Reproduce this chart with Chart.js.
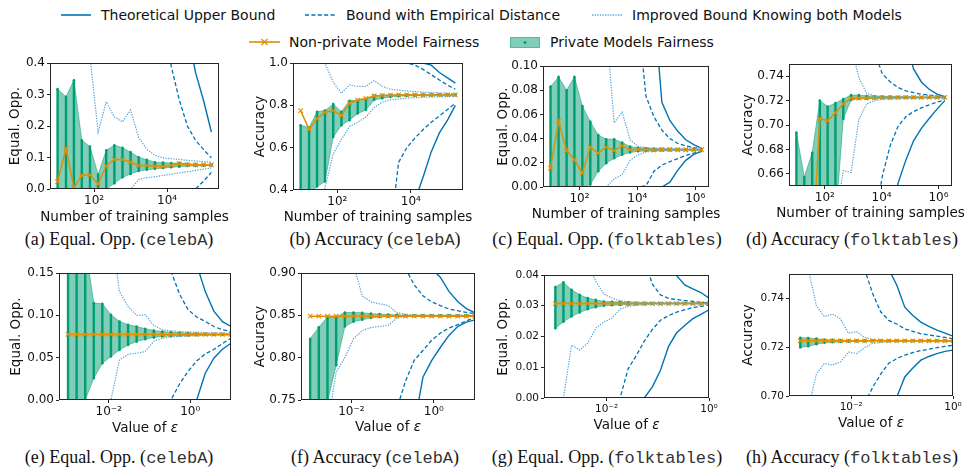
<!DOCTYPE html>
<html><head><meta charset="utf-8">
<script src="https://cdn.jsdelivr.net/npm/chart.js@4.4.1/dist/chart.umd.min.js"></script>
<style>
html,body{margin:0;padding:0;background:#fff;}
#wrap{position:relative;width:964px;height:469px;overflow:hidden;background:#fff;font-family:"DejaVu Sans",sans-serif;color:#111;}
canvas{position:absolute;}
.leg{position:absolute;font-size:14px;line-height:16px;white-space:nowrap;color:#111;}
.xt{position:absolute;font-size:13.5px;line-height:16px;white-space:nowrap;transform:translate(-50%,-50%);color:#111;}
.cap{position:absolute;font-family:"Liberation Serif","Times New Roman",serif;font-size:18px;line-height:20px;white-space:nowrap;transform:translateX(-50%);color:#111;}
.cap .tt{font-family:"Liberation Mono","Courier New",monospace;font-size:17px;color:#333;}
svg{position:absolute;overflow:visible;}
</style></head>
<body><div id="wrap">
<svg style="left:61px;top:9px" width="31" height="12"><line x1="0" y1="6" x2="30" y2="6" stroke="#0173B2" stroke-width="1.6"/></svg>
<div class="leg" style="left:101px;top:7px">Theoretical Upper Bound</div>
<svg style="left:305px;top:9px" width="31" height="12"><line x1="0" y1="6" x2="30" y2="6" stroke="#0173B2" stroke-width="1.6" stroke-dasharray="4,2.4"/></svg>
<div class="leg" style="left:346px;top:7px">Bound with Empirical Distance</div>
<svg style="left:592px;top:9px" width="31" height="12"><line x1="0" y1="6" x2="30" y2="6" stroke="#4FA3DA" stroke-width="1.4" stroke-dasharray="1.3,1.3"/></svg>
<div class="leg" style="left:632px;top:7px">Improved Bound Knowing both Models</div>
<svg style="left:249px;top:36px" width="32" height="12"><line x1="0" y1="6" x2="31" y2="6" stroke="#DE8F05" stroke-width="1.6"/><line x1="12.5" y1="3" x2="18.5" y2="9" stroke="#DE8F05" stroke-width="1.2"/><line x1="12.5" y1="9" x2="18.5" y2="3" stroke="#DE8F05" stroke-width="1.2"/></svg>
<div class="leg" style="left:289px;top:34px">Non-private Model Fairness</div>
<svg style="left:510px;top:37px" width="31" height="11"><rect x="0.5" y="0.5" width="29" height="10" fill="rgba(2,158,115,0.5)" stroke="rgba(2,158,115,0.6)"/><circle cx="15" cy="5.5" r="1.5" fill="#029E73"/></svg>
<div class="leg" style="left:550px;top:34px">Private Models Fairness</div>

<div class="cap" style="left:119px;top:229px">(a) Equal. Opp. (<span class="tt">celebA</span>)</div>
<div class="cap" style="left:375px;top:229px">(b) Accuracy (<span class="tt">celebA</span>)</div>
<div class="cap" style="left:607px;top:229px">(c) Equal. Opp. (<span class="tt">folktables</span>)</div>
<div class="cap" style="left:852px;top:229px">(d) Accuracy (<span class="tt">folktables</span>)</div>
<div class="cap" style="left:119px;top:447px">(e) Equal. Opp. (<span class="tt">celebA</span>)</div>
<div class="cap" style="left:375px;top:447px">(f) Accuracy (<span class="tt">celebA</span>)</div>
<div class="cap" style="left:607px;top:447px">(g) Equal. Opp. (<span class="tt">folktables</span>)</div>
<div class="cap" style="left:852px;top:447px">(h) Accuracy (<span class="tt">folktables</span>)</div>
</div>
<script>
const n = null;
// ---- x values ----
const celebN = [10, 17, 28, 46, 77, 129, 215, 359, 599, 999, 1666, 2779, 4635, 7731, 12894, 21506, 35869, 59826, 99783, 162770];
const folkN = [10, 19, 36, 67, 126, 237, 446, 840, 1582, 2980, 5612, 10570, 19906, 37490, 70610, 132990, 250470, 471730, 888450, 1673300];
const celebEps = [0.001, 0.001624, 0.002637, 0.004281, 0.006952, 0.01129, 0.01833, 0.02976, 0.04833, 0.07848, 0.1274, 0.2069, 0.336, 0.5456, 0.8859, 1.438, 2.336, 3.793, 6.158, 10];
const folkEps = [0.001, 0.001438, 0.002069, 0.002976, 0.004281, 0.006158, 0.008859, 0.01274, 0.01833, 0.02637, 0.03793, 0.05456, 0.07848, 0.1129, 0.1624, 0.2336, 0.336, 0.4833, 0.6952, 1.0];
// ---- tick labels ----
const celebNTicks = [100, 10000];            const celebNTickLabels = ['10²', '10⁴'];
const folkNTicks = [100, 10000, 1000000];    const folkNTickLabels = ['10²', '10⁴', '10⁶'];
const epsTicks = [0.01, 1];                  const epsTickLabels = ['10⁻²', '10⁰'];
const aYTicks = [0, 0.1, 0.2, 0.3, 0.4];     const aYLabels = ['0.0', '0.1', '0.2', '0.3', '0.4'];
const bYTicks = [0.4, 0.6, 0.8, 1.0];        const bYLabels = ['0.4', '0.6', '0.8', '1.0'];
const cYTicks = [0, 0.02, 0.04, 0.06, 0.08, 0.10]; const cYLabels = ['0.00', '0.02', '0.04', '0.06', '0.08', '0.10'];
const dYTicks = [0.66, 0.68, 0.70, 0.72, 0.74];    const dYLabels = ['0.66', '0.68', '0.70', '0.72', '0.74'];
const eYTicks = [0, 0.05, 0.10, 0.15];       const eYLabels = ['0.00', '0.05', '0.10', '0.15'];
const fYTicks = [0.75, 0.80, 0.85, 0.90];    const fYLabels = ['0.75', '0.80', '0.85', '0.90'];
const gYTicks = [0, 0.01, 0.02, 0.03, 0.04]; const gYLabels = ['0.00', '0.01', '0.02', '0.03', '0.04'];
const hYTicks = [0.70, 0.72, 0.74];          const hYLabels = ['0.70', '0.72', '0.74'];

// ---- (a) Equal. Opp. celebA vs N ----
const aNonPrivate = [0.023,0.128,0.005,0.043,0.045,0.016,0.073,0.094,0.094,0.085,0.075,0.075,0.072,0.072,0.075,0.080,0.077,0.077,0.077,0.077];
const aPrivMin = [0,0,0,0,0,0,0,0.018,0.037,0.048,0.057,0.061,0.064,0.067,0.069,0.071,0.073,0.073,0.074,0.075];
const aPrivMax = [0.317,0.293,0.345,0.155,0.135,0.046,0.123,0.139,0.131,0.117,0.101,0.093,0.085,0.084,0.082,0.083,0.080,0.079,0.078,0.078];
const aTheoUp = [n,n,n,n,n,n,n,n,n,n,n,n,n,n,n,n,0.5,0.37,0.28,0.181];
const aTheoLo = [n,n,n,n,n,n,0,0,0,0,0,0,0,0,0,0,0,0,0,0];
const aEmpUp = [n,n,n,n,n,n,n,n,n,n,n,n,n,0.6,0.39,0.283,0.2,0.155,0.125,0.099];
const aEmpLo = [n,n,n,n,n,n,0,0,0,0,0,0,0,0,0,0,0,0,0.025,0.053];
const aImpUp = [n,n,n,1.0,0.42,0.181,0.277,0.229,0.213,0.251,0.163,0.126,0.107,0.099,0.096,0.094,0.091,0.089,0.087,0.085];
const aImpLo = [n,n,n,n,n,n,0,0,0,0,0.03,0.036,0.039,0.043,0.047,0.051,0.055,0.059,0.063,0.067];
// ---- (b) Accuracy celebA vs N ----
const bNonPrivate = [0.775,0.687,0.738,0.767,0.775,0.752,0.81,0.825,0.833,0.844,0.847,0.848,0.849,0.849,0.849,0.849,0.849,0.849,0.849,0.849];
const bPrivMin = [0.38,0.38,0.416,0.44,0.65,0.706,0.73,0.762,0.778,0.825,0.833,0.84,0.843,0.845,0.846,0.847,0.847,0.848,0.848,0.848];
const bPrivMax = [0.706,0.695,0.77,0.775,0.806,0.77,0.822,0.825,0.829,0.846,0.848,0.85,0.85,0.851,0.851,0.851,0.851,0.851,0.851,0.851];
const bTheoUp = [1,1,1,1,1,1,1,1,1,1,1,1,1,1,1,1,0.99,0.955,0.93,0.905];
const bTheoLo = [n,n,n,n,n,n,n,n,n,n,n,n,n,n,0.35,0.46,0.58,0.67,0.73,0.80];
const bEmpUp = [1,1,1,1,1,1,1,1,1,1,1,1,1,1,0.99,0.97,0.945,0.92,0.895,0.876];
const bEmpLo = [n,n,n,n,n,n,n,n,n,n,n,0.2,0.53,0.6,0.645,0.685,0.72,0.75,0.78,0.81];
const bImpUp = [1,1,1,1,0.91,0.857,0.897,0.889,0.89,0.917,0.89,0.876,0.872,0.868,0.865,0.862,0.86,0.858,0.857,0.856];
const bImpLo = [n,n,0.2,0.41,0.57,0.64,0.70,0.72,0.745,0.79,0.815,0.826,0.83,0.834,0.836,0.838,0.84,0.841,0.842,0.843];
// ---- (c) Equal. Opp. folktables vs N ----
const cNonPrivate = [0.0156,0.0545,0.030,0.0225,0.0115,0.033,0.028,0.033,0.030,0.034,0.0307,0.031,0.031,0.0305,0.031,0.031,0.0308,0.0308,0.0308,0.0308];
const cPrivMin = [0,0,0,0,0,0.002,0.013,0.0197,0.0238,0.0266,0.0285,0.0295,0.0298,0.030,0.0302,0.0303,0.0304,0.0305,0.0305,0.0305];
const cPrivMax = [0.083,0.091,0.080,0.091,0.0668,0.054,0.043,0.0395,0.0395,0.0367,0.0334,0.0325,0.032,0.0318,0.0315,0.0314,0.0313,0.0312,0.0312,0.0311];
const cTheoUp = [n,n,n,n,n,n,n,n,n,n,n,n,n,0.15,0.07,0.055,0.046,0.039,0.035,0.032];
const cTheoLo = [n,n,n,n,n,n,n,n,n,n,n,0,0,0,0,0.004,0.014,0.022,0.027,0.0295];
const cEmpUp = [n,n,n,n,n,n,n,n,n,n,n,0.14,0.075,0.058,0.047,0.04,0.036,0.034,0.0325,0.0318];
const cEmpLo = [n,n,n,n,n,n,n,n,n,0,0,0,0.001,0.013,0.018,0.021,0.0235,0.026,0.028,0.0295];
const cImpUp = [n,n,n,n,n,n,n,0.134,0.053,0.062,0.039,0.0335,0.0325,0.032,0.0318,0.0317,0.0316,0.0315,0.0314,0.0313];
const cImpLo = [n,n,n,n,n,0,0,0,0.0068,0.0101,0.022,0.0265,0.029,0.0295,0.030,0.030,0.0302,0.0303,0.0304,0.0305];
// ---- (d) Accuracy folktables vs N ----
const dNonPrivate = [0.60,0.61,0.59,0.7053,0.7035,0.710,0.7173,0.7221,0.722,0.7222,0.7224,0.7225,0.7225,0.7225,0.7226,0.7226,0.7226,0.7226,0.7226,0.7226];
const dPrivMin = [0.62,0.62,0.62,0.62,0.62,0.62,0.705,0.7205,0.7215,0.7215,0.7217,0.7219,0.722,0.7221,0.7222,0.7222,0.7222,0.7223,0.7223,0.7223];
const dPrivMax = [0.6939,0.6573,0.6773,0.72,0.7152,0.7179,0.7213,0.7245,0.7245,0.7238,0.7236,0.7234,0.7233,0.7232,0.7231,0.7231,0.723,0.723,0.723,0.723];
const dTheoUp = [n,n,n,n,n,n,n,n,n,n,n,n,n,n,0.77,0.746,0.7353,0.7293,0.7253,0.7232];
const dTheoLo = [n,n,n,n,n,n,n,n,n,n,n,n,0.62,0.652,0.671,0.687,0.6973,0.7053,0.713,0.72];
const dEmpUp = [n,n,n,n,n,n,n,n,n,n,0.76,0.742,0.7355,0.7308,0.728,0.7265,0.7253,0.7245,0.7237,0.7232];
const dEmpLo = [n,n,n,n,n,n,n,n,n,n,0.62,0.658,0.683,0.6987,0.7067,0.711,0.714,0.7165,0.7187,0.7205];
const dImpUp = [n,n,n,n,n,n,n,0.765,0.7387,0.726,0.7238,0.7234,0.7233,0.7232,0.7231,0.723,0.723,0.7229,0.7228,0.7228];
const dImpLo = [n,n,n,n,n,0.62,0.6627,0.661,0.7045,0.7173,0.72,0.7212,0.7216,0.7218,0.722,0.7221,0.7222,0.7222,0.7222,0.7222];
// ---- (e) Equal. Opp. celebA vs epsilon ----
const eNonPrivate = [0.0775,0.0775,0.0775,0.0775,0.0775,0.0775,0.0775,0.0775,0.0775,0.0775,0.0775,0.0775,0.0775,0.0775,0.0775,0.0775,0.0775,0.0775,0.0775,0.0775];
const ePrivMin = [0,0,0,0.0257,0.0434,0.0513,0.0592,0.0651,0.069,0.0718,0.0737,0.075,0.0755,0.076,0.0763,0.0765,0.0767,0.0768,0.0769,0.077];
const ePrivMax = [0.2,0.19,0.183,0.1145,0.1137,0.1007,0.0928,0.0888,0.0868,0.0841,0.0821,0.0809,0.0801,0.0795,0.079,0.0785,0.0782,0.078,0.0779,0.0778];
const eTheoUp = [n,n,n,n,n,n,n,n,n,n,n,n,n,n,0.3,0.16,0.128,0.105,0.0925,0.0868];
const eTheoLo = [n,n,n,n,n,n,n,n,n,n,n,n,0,0,0,0,0.0316,0.0493,0.06,0.067];
const eEmpUp = [n,n,n,n,n,n,n,n,n,n,n,0.25,0.152,0.125,0.1066,0.098,0.0928,0.0868,0.083,0.0809];
const eEmpLo = [n,n,n,n,n,n,n,n,n,n,0,0,0,0.0189,0.034,0.046,0.0545,0.0597,0.0668,0.073];
const eImpUp = [n,n,n,n,n,0.2,0.128,0.1105,0.1,0.1006,0.088,0.0829,0.0817,0.081,0.0805,0.08,0.0795,0.079,0.079,0.0785];
const eImpLo = [n,n,n,0,0,0,0.0474,0.054,0.0553,0.0572,0.0695,0.073,0.0745,0.075,0.0755,0.076,0.0762,0.0765,0.0767,0.0768];
// ---- (f) Accuracy celebA vs epsilon ----
const fNonPrivate = [0.849,0.849,0.849,0.849,0.849,0.849,0.849,0.849,0.849,0.849,0.849,0.849,0.849,0.849,0.849,0.849,0.849,0.849,0.849,0.849];
const fPrivMin = [0.7,0.7,0.748,0.791,0.8368,0.8425,0.8447,0.847,0.848,0.8485,0.849,0.849,0.849,0.849,0.849,0.849,0.849,0.849,0.849,0.849];
const fPrivMax = [0.8222,0.836,0.8479,0.848,0.8534,0.8534,0.853,0.852,0.8515,0.851,0.8505,0.85,0.85,0.8499,0.8499,0.8499,0.8499,0.8499,0.8499,0.8499];
const fTheoUp = [n,n,n,n,n,n,n,n,n,n,n,n,n,0.95,0.905,0.895,0.8782,0.8663,0.858,0.853];
const fTheoLo = [n,n,n,n,n,n,n,n,n,n,n,0.68,0.72,0.777,0.7965,0.812,0.8263,0.8368,0.842,0.8447];
const fEmpUp = [n,n,n,n,n,n,n,n,n,n,0.95,0.905,0.886,0.873,0.866,0.8615,0.8575,0.8555,0.8535,0.852];
const fEmpLo = [n,n,n,n,n,n,n,n,n,0.7,0.74,0.7725,0.797,0.8085,0.8205,0.829,0.835,0.839,0.8435,0.8474];
const fImpUp = [n,n,n,n,0.95,0.91,0.873,0.866,0.8635,0.8615,0.853,0.851,0.8505,0.85,0.85,0.85,0.85,0.85,0.85,0.85];
const fImpLo = [n,n,0.72,0.783,0.8,0.8225,0.832,0.8355,0.837,0.838,0.847,0.8485,0.849,0.849,0.849,0.849,0.849,0.849,0.849,0.849];
// ---- (g) Equal. Opp. folktables vs epsilon ----
const gNonPrivate = [0.0307,0.0307,0.0307,0.0307,0.0307,0.0307,0.0307,0.0307,0.0307,0.0307,0.0307,0.0307,0.0307,0.0307,0.0307,0.0307,0.0307,0.0307,0.0307,0.0307];
const gPrivMin = [0.0227,0.0248,0.0265,0.0278,0.0289,0.0295,0.030,0.0302,0.0303,0.0304,0.0305,0.0305,0.0306,0.0306,0.0306,0.0306,0.0306,0.0306,0.0306,0.0306];
const gPrivMax = [0.0361,0.0376,0.0352,0.0336,0.0325,0.0319,0.0314,0.0313,0.0312,0.0311,0.031,0.031,0.0309,0.0309,0.0309,0.0309,0.0309,0.0309,0.0309,0.0309];
const gTheoUp = [n,n,n,n,n,n,n,n,n,n,n,n,n,n,0.05,0.0398,0.0368,0.0355,0.0343,0.0325];
const gTheoLo = [n,n,n,n,n,n,n,n,n,0,0,0,0.0036,0.009,0.0168,0.0212,0.0236,0.0258,0.0272,0.0287];
const gEmpUp = [n,n,n,n,n,n,n,n,n,n,0.07,0.045,0.037,0.0335,0.0324,0.032,0.0317,0.0314,0.0311,0.0309];
const gEmpLo = [n,n,n,n,n,n,0,0,0,0.0095,0.0138,0.0185,0.0223,0.0253,0.0268,0.0279,0.0287,0.0294,0.0298,0.0303];
const gImpUp = [n,n,n,0.06,0.044,0.0379,0.0338,0.0325,0.0316,0.0313,0.0311,0.031,0.031,0.031,0.031,0.031,0.031,0.031,0.031,0.031];
const gImpLo = [0,0,0.0172,0.0156,0.0178,0.0227,0.0247,0.026,0.0289,0.0298,0.0302,0.0304,0.0305,0.0305,0.0306,0.0306,0.0306,0.0306,0.0306,0.0306];
// ---- (h) Accuracy folktables vs epsilon ----
const hNonPrivate = [0.7226,0.7226,0.7226,0.7226,0.7226,0.7226,0.7226,0.7226,0.7226,0.7226,0.7226,0.7226,0.7226,0.7226,0.7226,0.7226,0.7226,0.7226,0.7226,0.7226];
const hPrivMin = [0.7199,0.7204,0.7212,0.7218,0.722,0.7222,0.7223,0.7224,0.7224,0.7225,0.7225,0.7225,0.7225,0.7225,0.7225,0.7225,0.7225,0.7225,0.7225,0.7225];
const hPrivMax = [0.7239,0.7238,0.7235,0.7231,0.723,0.7229,0.7228,0.7228,0.7228,0.7227,0.7227,0.7227,0.7227,0.7227,0.7227,0.7227,0.7227,0.7227,0.7227,0.7227];
const hTheoUp = [n,n,n,n,n,n,n,n,n,n,0.77,0.752,0.7455,0.7364,0.733,0.7303,0.7285,0.727,0.7258,0.7245];
const hTheoLo = [n,n,n,n,n,n,n,n,n,n,n,0.695,0.6995,0.7078,0.7115,0.7147,0.7162,0.7174,0.7183,0.7188];
const hEmpUp = [n,n,n,n,n,n,n,0.765,0.752,0.742,0.7345,0.731,0.7295,0.7275,0.7265,0.7255,0.725,0.7245,0.724,0.7235];
const hEmpLo = [n,n,n,n,n,n,n,0.69,0.697,0.7035,0.709,0.7134,0.7153,0.7168,0.7178,0.7186,0.7192,0.7198,0.7203,0.7208];
const hImpUp = [n,0.752,0.737,0.7325,0.7336,0.7316,0.7257,0.7264,0.724,0.7232,0.7229,0.7228,0.7228,0.7228,0.7227,0.7227,0.7227,0.7227,0.7227,0.7227];
const hImpLo = [n,0.695,0.709,0.7134,0.7127,0.714,0.718,0.7174,0.7198,0.7215,0.722,0.7222,0.7224,0.7225,0.7225,0.7225,0.7225,0.7225,0.7225,0.7225];

const BLUE = '#0173B2', BLUE_L = '#4FA3DA', ORANGE = '#DE8F05', GREEN = '#029E73', FILL = 'rgba(2,158,115,0.5)';
const TXT_N = 'Number of training samples', TXT_E = 'Value of <i>ε</i>';

const panels = [
  {plot:{l:50,t:63,r:219,b:189}, yc:15, xc:216, x:celebN, xMin:6.2, xMax:263000, xt:celebNTicks, xl:celebNTickLabels, yMin:0, yMax:0.4, yt:aYTicks, yl:aYLabels, yTitle:'Equal. Opp.', xTitle:TXT_N, fs:12,
   np:aNonPrivate, lo:aPrivMin, hi:aPrivMax, thU:aTheoUp, thL:aTheoLo, emU:aEmpUp, emL:aEmpLo, imU:aImpUp, imL:aImpLo},
  {plot:{l:293,t:63,r:463,b:190}, yc:260, xc:216, x:celebN, xMin:6.2, xMax:263000, xt:celebNTicks, xl:celebNTickLabels, yMin:0.4, yMax:1.0, yt:bYTicks, yl:bYLabels, yTitle:'Accuracy', xTitle:TXT_N, fs:12,
   np:bNonPrivate, lo:bPrivMin, hi:bPrivMax, thU:bTheoUp, thL:bTheoLo, emU:bEmpUp, emL:bEmpLo, imU:bImpUp, imL:bImpLo},
  {plot:{l:543,t:66,r:709,b:187}, yc:503, xc:213, x:folkN, xMin:5.5, xMax:3000000, xt:folkNTicks, xl:folkNTickLabels, yMin:0, yMax:0.10, yt:cYTicks, yl:cYLabels, yTitle:'Equal. Opp.', xTitle:TXT_N, fs:12,
   np:cNonPrivate, lo:cPrivMin, hi:cPrivMax, thU:cTheoUp, thL:cTheoLo, emU:cEmpUp, emL:cEmpLo, imU:cImpUp, imL:cImpLo},
  {plot:{l:789,t:64,r:952,b:186}, yc:748, xc:212, x:folkN, xMin:5.5, xMax:3000000, xt:folkNTicks, xl:folkNTickLabels, yMin:0.65, yMax:0.75, yt:dYTicks, yl:dYLabels, yTitle:'Accuracy', xTitle:TXT_N, fs:12,
   np:dNonPrivate, lo:dPrivMin, hi:dPrivMax, thU:dTheoUp, thL:dTheoLo, emU:dEmpUp, emL:dEmpLo, imU:dImpUp, imL:dImpLo},
  {plot:{l:59,t:273,r:231,b:400}, yc:16, xc:427, x:celebEps, xMin:0.00063, xMax:10, xt:epsTicks, xl:epsTickLabels, yMin:0, yMax:0.15, yt:eYTicks, yl:eYLabels, yTitle:'Equal. Opp.', xTitle:TXT_E, fs:12,
   np:eNonPrivate, lo:ePrivMin, hi:ePrivMax, thU:eTheoUp, thL:eTheoLo, emU:eEmpUp, emL:eEmpLo, imU:eImpUp, imL:eImpLo},
  {plot:{l:301,t:273,r:475,b:400}, yc:260, xc:426, x:celebEps, xMin:0.00063, xMax:10, xt:epsTicks, xl:epsTickLabels, yMin:0.75, yMax:0.90, yt:fYTicks, yl:fYLabels, yTitle:'Accuracy', xTitle:TXT_E, fs:12,
   np:fNonPrivate, lo:fPrivMin, hi:fPrivMax, thU:fTheoUp, thL:fTheoLo, emU:fEmpUp, emL:fEmpLo, imU:fImpUp, imL:fImpLo},
  {plot:{l:544,t:275,r:709,b:398}, yc:503, xc:424, x:folkEps, xMin:0.00063, xMax:1, xt:epsTicks, xl:epsTickLabels, yMin:0, yMax:0.04, yt:gYTicks, yl:gYLabels, yTitle:'Equal. Opp.', xTitle:TXT_E, fs:10.5,
   np:gNonPrivate, lo:gPrivMin, hi:gPrivMax, thU:gTheoUp, thL:gTheoLo, emU:gEmpUp, emL:gEmpLo, imU:gImpUp, imL:gImpLo},
  {plot:{l:789,t:274,r:953,b:396}, yc:748, xc:422, x:folkEps, xMin:0.00063, xMax:1, xt:epsTicks, xl:epsTickLabels, yMin:0.70, yMax:0.75, yt:hYTicks, yl:hYLabels, yTitle:'Accuracy', xTitle:TXT_E, fs:10.5,
   np:hNonPrivate, lo:hPrivMin, hi:hPrivMax, thU:hTheoUp, thL:hTheoLo, emU:hEmpUp, emL:hEmpLo, imU:hImpUp, imL:hImpLo}
];

Chart.defaults.font.family = '"DejaVu Sans", sans-serif';
Chart.defaults.color = '#111';

const framePlugin = {
  id: 'frame',
  afterDatasetsDraw(chart) {
    const {ctx, chartArea: a} = chart;
    ctx.save();
    ctx.strokeStyle = '#262626';
    ctx.lineWidth = 1;
    ctx.strokeRect(Math.round(a.left) + 0.5, Math.round(a.top) + 0.5, Math.round(a.right - a.left) - 1, Math.round(a.bottom - a.top) - 1);
    ctx.restore();
  }
};

const wrap = document.getElementById('wrap');
panels.forEach(p => {
  const L = Math.round(p.yc - 8.1), T = p.plot.t - 10, R = p.plot.r + 16, B = p.plot.b + 22;
  const cv = document.createElement('canvas');
  cv.width = R - L; cv.height = B - T;
  cv.style.left = L + 'px'; cv.style.top = T + 'px';
  wrap.appendChild(cv);
  const xt = document.createElement('div');
  xt.className = 'xt';
  xt.style.left = ((p.plot.l + p.plot.r) / 2) + 'px';
  xt.style.top = p.xc + 'px';
  xt.innerHTML = p.xTitle;
  wrap.appendChild(xt);

  const yW = p.plot.l - L, xH = B - p.plot.b;
  const pts = arr => p.x.map((v, i) => ({x: v, y: arr[i]}));
  const stripes = [];
  p.x.forEach((v, i) => { stripes.push({x: v, y: p.lo[i]}, {x: v, y: p.hi[i]}, {x: v, y: null}); });
  const bound = (label, arr, color, dash, w) => ({label, data: pts(arr), borderColor: color, borderDash: dash, borderWidth: w, pointRadius: 0, fill: false, clip: 0, tension: 0});
  const datasets = [
    {label: 'Non-private Model Fairness', data: pts(p.np), borderColor: ORANGE, borderWidth: 1.5, pointStyle: 'crossRot', pointRadius: 3.2,
     pointBorderColor: ORANGE, pointBackgroundColor: ORANGE, pointBorderWidth: 1.1, fill: false, clip: 0},
    bound('Improved Bound Knowing both Models (upper)', p.imU, BLUE_L, [1.3, 1.3], 1.2),
    bound('Improved Bound Knowing both Models (lower)', p.imL, BLUE_L, [1.3, 1.3], 1.2),
    bound('Bound with Empirical Distance (upper)', p.emU, BLUE, [4, 2.4], 1.3),
    bound('Bound with Empirical Distance (lower)', p.emL, BLUE, [4, 2.4], 1.3),
    bound('Theoretical Upper Bound (upper)', p.thU, BLUE, [], 1.4),
    bound('Theoretical Upper Bound (lower)', p.thL, BLUE, [], 1.4),
    {label: 'Private Models Fairness', data: stripes, borderColor: GREEN, borderWidth: 2.4, pointRadius: 1.3,
     pointBackgroundColor: GREEN, pointBorderWidth: 0, fill: false, clip: 0, spanGaps: false},
    {label: 'Private Models Fairness (max)', data: pts(p.hi), borderColor: FILL, backgroundColor: FILL, borderWidth: 1, pointRadius: 0, fill: 9, clip: 0},
    {label: 'Private Models Fairness (min)', data: pts(p.lo), borderColor: FILL, borderWidth: 1, pointRadius: 0, fill: false, clip: 0}
  ];
  const gridOpt = {drawOnChartArea: false, drawTicks: true, tickLength: 3, tickColor: '#262626', tickWidth: 1};
  new Chart(cv, {
    type: 'line',
    data: {datasets},
    plugins: [framePlugin],
    options: {
      responsive: false, animation: false, events: [],
      layout: {padding: {left: 0, top: 10, right: 16, bottom: 0}},
      plugins: {legend: {display: false}, tooltip: {enabled: false}},
      scales: {
        x: {type: 'logarithmic', min: p.xMin, max: p.xMax,
            afterBuildTicks: s => { s.ticks = p.xt.map(v => ({value: v})); },
            afterFit: s => { s.height = xH; },
            ticks: {autoSkip: false, maxRotation: 0, minRotation: 0, padding: 2, color: '#111', font: {size: p.fs}, callback: (v, i) => p.xl[i]},
            grid: gridOpt, border: {display: false}},
        y: {type: 'linear', min: p.yMin, max: p.yMax,
            afterBuildTicks: s => { s.ticks = p.yt.map(v => ({value: v})); },
            afterFit: s => { s.width = yW; },
            ticks: {autoSkip: false, padding: 2, color: '#111', font: {size: p.fs}, callback: (v, i) => p.yl[i]},
            grid: gridOpt, border: {display: false},
            title: {display: true, text: p.yTitle, color: '#111', font: {size: 13.5}, padding: 0}}
      }
    }
  });
});
</script>
</body></html>
